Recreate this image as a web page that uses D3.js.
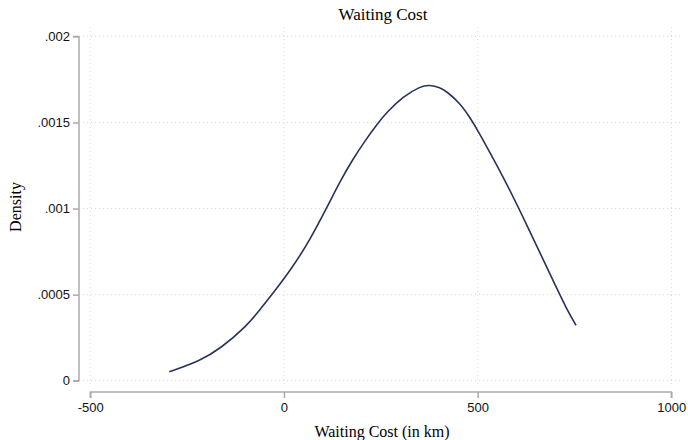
<!DOCTYPE html>
<html>
<head>
<meta charset="utf-8">
<script src="https://cdn.jsdelivr.net/npm/d3@7"></script>
<style>
  body { margin: 0; background: #fff; }
</style>
</head>
<body>
<svg id="chart" width="688" height="440"></svg>
<script>
// значения плотности
const waitCost = [-296, -217, -165, -95, -62, -28, 23, 67, 110, 145, 179, 205, 243, 265, 308, 351, 377, 403, 420, 454, 480, 504, 532, 576, 627, 694, 730, 754];
const density = [0.000052, 0.000115, 0.000185, 0.00032, 0.000413, 0.000508, 0.000661, 0.000818, 0.001002, 0.00116, 0.00129, 0.00138, 0.001497, 0.001558, 0.001651, 0.001709, 0.001719, 0.001703, 0.00168, 0.001613, 0.00153, 0.00144, 0.001324, 0.00114, 0.000905, 0.000585, 0.000415, 0.000322];
const xTicks = [-500, 0, 500, 1000];
const yTicks = [0, 0.0005, 0.001, 0.0015, 0.002];
const yTickLabels = ["0", ".0005", ".001", ".0015", ".002"];

const svg = d3.select("#chart");

const x = d3.scaleLinear().domain([-500, 1000]).range([90.3, 671.3]);
const y = d3.scaleLinear().domain([0, 0.002]).range([380.7, 36.4]);

// сетка
const grid = svg.append("g").attr("stroke", "#d9d9d9").attr("stroke-width", 1).attr("stroke-dasharray", "1,3");
grid.selectAll("line.h").data(yTicks).enter().append("line")
    .attr("x1", 83).attr("x2", 683)
    .attr("y1", d => y(d)).attr("y2", d => y(d));
grid.selectAll("line.v").data(xTicks).enter().append("line")
    .attr("x1", d => x(d)).attr("x2", d => x(d))
    .attr("y1", 27).attr("y2", 387);

// оси
const yAxis = svg.append("g")
    .attr("transform", "translate(79,0)")
    .call(d3.axisLeft(y).tickValues(yTicks).tickSize(6).tickPadding(3)
        .tickFormat((d, i) => yTickLabels[i]));
const xAxis = svg.append("g")
    .attr("transform", "translate(0,392)")
    .call(d3.axisBottom(x).tickValues(xTicks).tickSize(6).tickPadding(5)
        .tickFormat(d => String(d)));

[yAxis, xAxis].forEach(a => {
    a.select(".domain").attr("stroke", "#aaaaaa").attr("stroke-width", 1.5);
    a.selectAll(".tick line").attr("stroke", "#aaaaaa").attr("stroke-width", 1.5);
    a.selectAll(".tick text").attr("fill", "#111")
        .style("font", "13px 'Liberation Sans', Arial, sans-serif");
});
yAxis.select(".domain").attr("d", `M-6,${y(0)}H0V${y(0.002)}H-6`);
xAxis.select(".domain").attr("d", `M${x(-500)},6V0H${x(1000)}V6`);

// кривая
const line = d3.line()
    .x((d, i) => x(waitCost[i]))
    .y(d => y(d))
    .curve(d3.curveBasis);
svg.append("path")
    .datum(density)
    .attr("fill", "none")
    .attr("stroke", "#27335e")
    .attr("stroke-width", 1.6)
    .attr("d", line);

// подписи
svg.append("text")
    .attr("x", 383).attr("y", 20)
    .attr("text-anchor", "middle")
    .style("font", "17px 'Liberation Serif', 'Times New Roman', serif")
    .text("Waiting Cost");
svg.append("text")
    .attr("x", 382).attr("y", 437)
    .attr("text-anchor", "middle")
    .style("font", "16px 'Liberation Serif', 'Times New Roman', serif")
    .text("Waiting Cost (in km)");
svg.append("text")
    .attr("transform", "translate(21,207) rotate(-90)")
    .attr("text-anchor", "middle")
    .style("font", "16px 'Liberation Serif', 'Times New Roman', serif")
    .text("Density");
</script>
</body>
</html>
